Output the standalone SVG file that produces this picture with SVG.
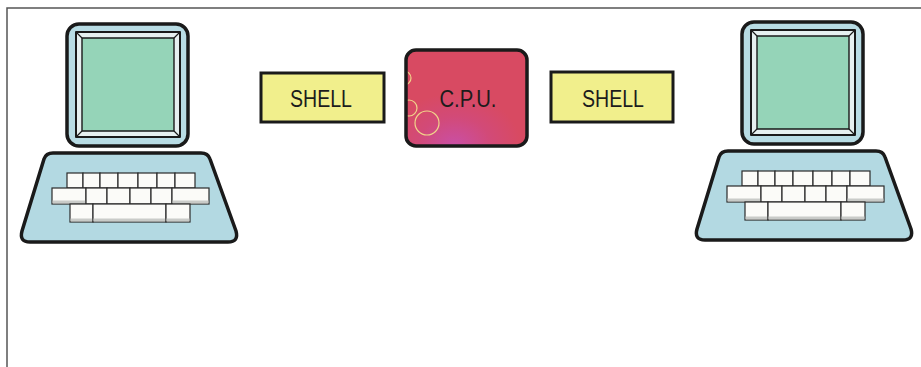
<svg xmlns="http://www.w3.org/2000/svg" xmlns:xlink="http://www.w3.org/1999/xlink" width="921" height="367" viewBox="0 0 921 367">
  <style>
    .outline { stroke: #1a1a1a; stroke-linejoin: round; }
    .bezel-outer { fill: #b8dce4; stroke-width: 3.5; }
    .bezel-inner { fill: #e6f0f0; stroke-width: 2; }
    .screen { fill: #95d4b8; stroke-width: 1.4; }
    .base { fill: #b3d9e2; stroke-width: 3.5; }
    .key { fill: #fbfbf8; stroke: #2a2a2a; stroke-width: 1.2; }
    .key-edge { fill: #c9cbc8; }
    .shell { fill: #f1ef8c; stroke: #1a1a1a; stroke-width: 3; }
    .label { font-family: "Liberation Sans", Arial, sans-serif; font-size: 24px; fill: #1c1c1c; }
    .frame { stroke: #555; stroke-width: 1.5; fill: none; }
  </style>
  <defs>
    <radialGradient id="cpuGlow" cx="0.4" cy="1" r="0.55">
      <stop offset="0" stop-color="#c94fa6"/>
      <stop offset="0.55" stop-color="#d24a78"/>
      <stop offset="1" stop-color="#d84a62"/>
    </radialGradient>
    <clipPath id="cpuClip">
      <rect x="406" y="50" width="121" height="96" rx="10"/>
    </clipPath>
    <!-- one terminal: monitor and keyboard -->
    <g id="terminal">
      <rect class="outline bezel-outer" x="67" y="24" width="121" height="122" rx="12"/>
      <rect class="outline bezel-inner" x="76" y="32" width="104" height="105"/>
      <rect class="outline screen" x="82" y="38" width="92" height="93"/>
      <path class="outline" stroke-width="1.2" fill="none" d="M76 32 L82 38 M180 32 L174 38 M76 137 L82 131 M180 137 L174 131"/>
      <path class="outline base" d="M53 153 L201 153 Q208 153 210 159 L236 231 Q239 242 228 242 L30 242 Q19 242 22 231 L44 159 Q46 153 53 153 Z"/>
      <!-- top row -->
      <g>
        <rect class="key" x="67" y="173" width="16" height="15"/>
        <rect class="key" x="83" y="173" width="17" height="15"/>
        <rect class="key" x="100" y="173" width="18" height="15"/>
        <rect class="key" x="118" y="173" width="20" height="15"/>
        <rect class="key" x="138" y="173" width="19" height="15"/>
        <rect class="key" x="157" y="173" width="18" height="15"/>
        <rect class="key" x="175" y="173" width="20" height="15"/>
      </g>
      <!-- middle row -->
      <g>
        <rect class="key" x="52" y="188" width="34" height="16"/>
        <rect class="key-edge" x="52.6" y="200.5" width="32.8" height="2.9"/>
        <rect class="key" x="86" y="188" width="21" height="16"/>
        <rect class="key" x="107" y="188" width="23" height="16"/>
        <rect class="key" x="130" y="188" width="21" height="16"/>
        <rect class="key" x="151" y="188" width="21" height="16"/>
        <rect class="key" x="172" y="188" width="37" height="16"/>
        <rect class="key-edge" x="172.6" y="200.5" width="35.8" height="2.9"/>
      </g>
      <!-- bottom row -->
      <g>
        <rect class="key" x="70" y="204" width="23" height="18"/>
        <rect class="key-edge" x="70.6" y="218.5" width="21.8" height="2.9"/>
        <rect class="key" x="93" y="204" width="73" height="18"/>
        <rect class="key-edge" x="93.6" y="218.5" width="71.8" height="2.9"/>
        <rect class="key" x="166" y="204" width="24" height="18"/>
        <rect class="key-edge" x="166.6" y="218.5" width="22.8" height="2.9"/>
      </g>
    </g>
  </defs>

  <!-- page border -->
  <path class="frame" d="M7 367 L7 8 L921 8"/>

  <g id="terminal-left">
    <use xlink:href="#terminal" href="#terminal"/>
  </g>

  <g id="terminal-right">
    <use xlink:href="#terminal" href="#terminal" transform="translate(675,-2)"/>
  </g>

  <g id="shell-left">
    <rect class="shell" x="261" y="73" width="123" height="49"/>
    <text class="label" x="321" y="107" text-anchor="middle" textLength="62" lengthAdjust="spacingAndGlyphs">SHELL</text>
  </g>

  <g id="cpu">
    <rect x="406" y="50" width="121" height="96" rx="10" fill="url(#cpuGlow)"/>
    <g clip-path="url(#cpuClip)" fill="none" stroke="#f0d48a" stroke-width="1.2">
      <circle cx="404" cy="78" r="7"/>
      <circle cx="409" cy="108" r="8"/>
      <circle cx="427" cy="123" r="12"/>
    </g>
    <rect x="406" y="50" width="121" height="96" rx="10" fill="none" stroke="#1a1a1a" stroke-width="3.5"/>
    <text class="label" x="468" y="107" text-anchor="middle" textLength="57" lengthAdjust="spacingAndGlyphs">C.P.U.</text>
  </g>

  <g id="shell-right">
    <rect class="shell" x="551" y="72" width="122" height="50"/>
    <text class="label" x="613" y="107" text-anchor="middle" textLength="62" lengthAdjust="spacingAndGlyphs">SHELL</text>
  </g>

  <!-- no connectors are drawn between the units -->
  <g id="connectors"/>
</svg>
